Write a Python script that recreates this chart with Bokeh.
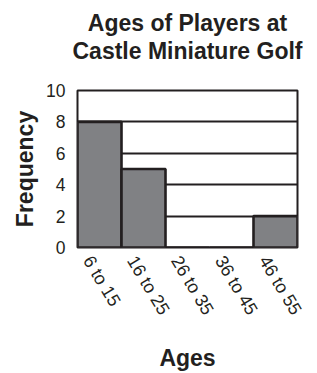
from bokeh.plotting import figure
from bokeh.models import Title, FixedTicker, Range1d
from bokeh.embed import file_html
from bokeh.resources import INLINE

bins = ["6 to 15", "16 to 25", "26 to 35", "36 to 45", "46 to 55"]
freq = [8, 5, 0, 0, 2]
y_ticks = [0, 2, 4, 6, 8, 10]
title_lines = ["Ages of Players at", "Castle Miniature Golf"]

FONT = "Liberation Sans"
INK = "#231f20"

idx = list(range(len(bins)))
label_pos = [i - 0.27 for i in idx]

p = figure(x_range=Range1d(-0.5, len(bins) - 0.5), y_range=Range1d(0, 10),
           width=317, height=373, output_backend="svg", toolbar_location=None,
           min_border_left=77, min_border_right=20, min_border_top=90, min_border_bottom=123)

p.vbar(x=idx, top=freq, width=1.0, fill_color="#808184", line_color=INK, line_width=2.6)

spacer = Title(text=" ", text_font=FONT, text_font_size="1px", standoff=24)
t2 = Title(text=title_lines[1], align="center",
           text_font=FONT, text_font_size="23px", text_font_style="bold", text_color=INK,
           standoff=0, offset=-8)
t1 = Title(text=title_lines[0], align="center",
           text_font=FONT, text_font_size="23px", text_font_style="bold", text_color=INK,
           standoff=0, offset=-6)
p.add_layout(spacer, "above")
p.add_layout(t2, "above")
p.add_layout(t1, "above")

p.outline_line_color = INK
p.outline_line_width = 2
p.outline_line_alpha = 1

p.xgrid.grid_line_color = None
p.ygrid.grid_line_color = INK
p.ygrid.grid_line_width = 2
p.ygrid.ticker = FixedTicker(ticks=y_ticks)

p.yaxis.ticker = FixedTicker(ticks=y_ticks)
p.xaxis.ticker = FixedTicker(ticks=label_pos)
p.xaxis.major_label_overrides = {pos: lab for pos, lab in zip(label_pos, bins)}
p.yaxis.axis_label = "Frequency"
p.xaxis.axis_label = "Ages"
for ax in (p.xaxis[0], p.yaxis[0]):
    ax.axis_line_color = None
    ax.major_tick_line_color = None
    ax.minor_tick_line_color = None
    ax.major_label_text_font = FONT
    ax.major_label_text_font_size = "17.5px"
    ax.major_label_text_color = INK
    ax.axis_label_text_font = FONT
    ax.axis_label_text_font_size = "23px"
    ax.axis_label_text_font_style = "bold"
    ax.axis_label_text_color = INK
p.xaxis.major_label_text_font_size = "18px"
p.yaxis.major_label_standoff = 6
p.yaxis.axis_label_standoff = 5
p.xaxis.major_label_orientation = -1.03
p.xaxis.major_label_standoff = 4
p.xaxis.axis_label_standoff = 18

open("out.html", "w").write(file_html(p, INLINE))
